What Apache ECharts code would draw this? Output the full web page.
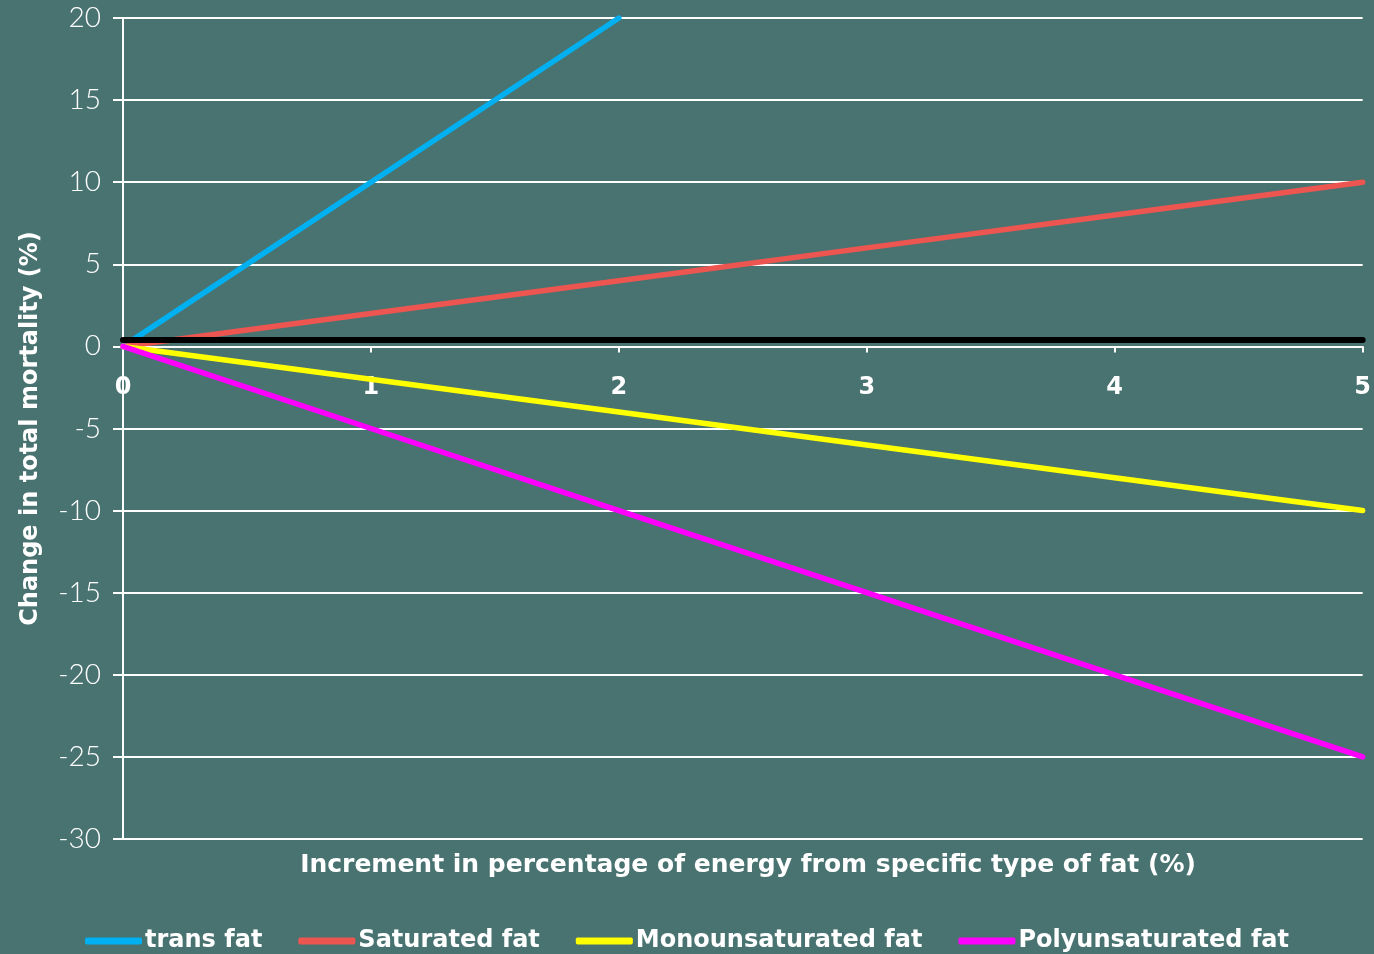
<!DOCTYPE html>
<html>
<head>
<meta charset="utf-8">
<script src="https://cdn.jsdelivr.net/npm/echarts@6/dist/echarts.min.js"></script>
<style>
  html, body { margin: 0; padding: 0; background: #497371; }
  #chart { width: 1374px; height: 954px; }
</style>
</head>
<body>
<div id="chart"></div>
<script>
// Increment in energy share (%) along the x axis
const increments = ['0', '1', '2', '3', '4', '5'];

// Change in total mortality (%) for each fat type
const transFat = [0, 10, 20];
const saturatedFat = [0, 2, 4, 6, 8, 10];
const monounsaturatedFat = [0, -2, -4, -6, -8, -10];
const polyunsaturatedFat = [0, -5, -10, -15, -20, -25];

// Reference level drawn as the thick black line
const baselineLevel = 0.4;

const yTicks = { min: -30, max: 20, interval: 5 };

const boldFont = '"DejaVu Sans", "Open Sans", sans-serif';
const lightFont = 'Lato, "Open Sans", sans-serif';

const chart = echarts.init(document.getElementById('chart'));

const grid = { left: 123, right: 11, top: 18, bottom: 115 };
const plotHeight = 954 - grid.top - grid.bottom;
// The category axis sits on the zero level of the value axis
const zeroOffset = -plotHeight * (0 - yTicks.min) / (yTicks.max - yTicks.min);

function lineSeries(name, data, color) {
  return {
    name: name,
    type: 'line',
    data: data,
    symbol: 'none',
    lineStyle: { color: color, width: 5.5, cap: 'round' },
    itemStyle: { color: color },
    z: 3
  };
}

chart.setOption({
  backgroundColor: '#497371',
  animation: false,
  title: {
    text: 'Increment in percentage of energy from specific type of fat (%)',
    left: 743,
    textAlign: 'center',
    top: 848,
    textStyle: { color: '#ffffff', fontSize: 25, fontWeight: 'bold', fontFamily: boldFont }
  },
  grid: grid,
  legend: {
    bottom: -4,
    left: 'center',
    icon: 'roundRect',
    itemWidth: 57,
    itemHeight: 7,
    itemGap: 36,
    textStyle: { color: '#ffffff', fontSize: 24, fontWeight: 'bold', fontFamily: boldFont, padding: [0, 0, 0, -2] },
    data: ['trans fat', 'Saturated fat', 'Monounsaturated fat', 'Polyunsaturated fat']
  },
  xAxis: {
    type: 'category',
    data: increments,
    boundaryGap: false,
    offset: zeroOffset,
    axisLine: { onZero: false, lineStyle: { color: '#ffffff', width: 2 } },
    axisTick: { show: true, length: 6, lineStyle: { color: '#ffffff', width: 2 } },
    axisLabel: { color: '#ffffff', fontSize: 24, fontWeight: 'bold', fontFamily: boldFont, margin: 29 },
    splitLine: { show: false }
  },
  yAxis: {
    type: 'value',
    min: yTicks.min,
    max: yTicks.max,
    interval: yTicks.interval,
    name: 'Change in total mortality (%)',
    nameLocation: 'middle',
    nameGap: 80,
    nameTextStyle: { color: '#ffffff', fontSize: 24, fontWeight: 'bold', fontFamily: boldFont },
    axisLine: { show: true, lineStyle: { color: '#ffffff', width: 2 } },
    axisTick: { show: true, length: 10, lineStyle: { color: '#ffffff', width: 2 } },
    axisLabel: { color: '#ffffff', fontSize: 28, fontWeight: 300, fontFamily: lightFont, margin: 22 },
    splitLine: { show: true, lineStyle: { color: '#ffffff', width: 2 } }
  },
  series: [
    lineSeries('trans fat', transFat, '#00b0f0'),
    lineSeries('Saturated fat', saturatedFat, '#ec5550'),
    lineSeries('Monounsaturated fat', monounsaturatedFat, '#ffff00'),
    Object.assign(lineSeries('Polyunsaturated fat', polyunsaturatedFat, '#ff00ff'), {
      markLine: {
        silent: true,
        symbol: 'none',
        label: { show: false },
        lineStyle: { color: '#000000', width: 6, type: 'solid', cap: 'round' },
        data: [{ yAxis: baselineLevel }],
        z: 4
      }
    })
  ]
});
</script>
</body>
</html>
